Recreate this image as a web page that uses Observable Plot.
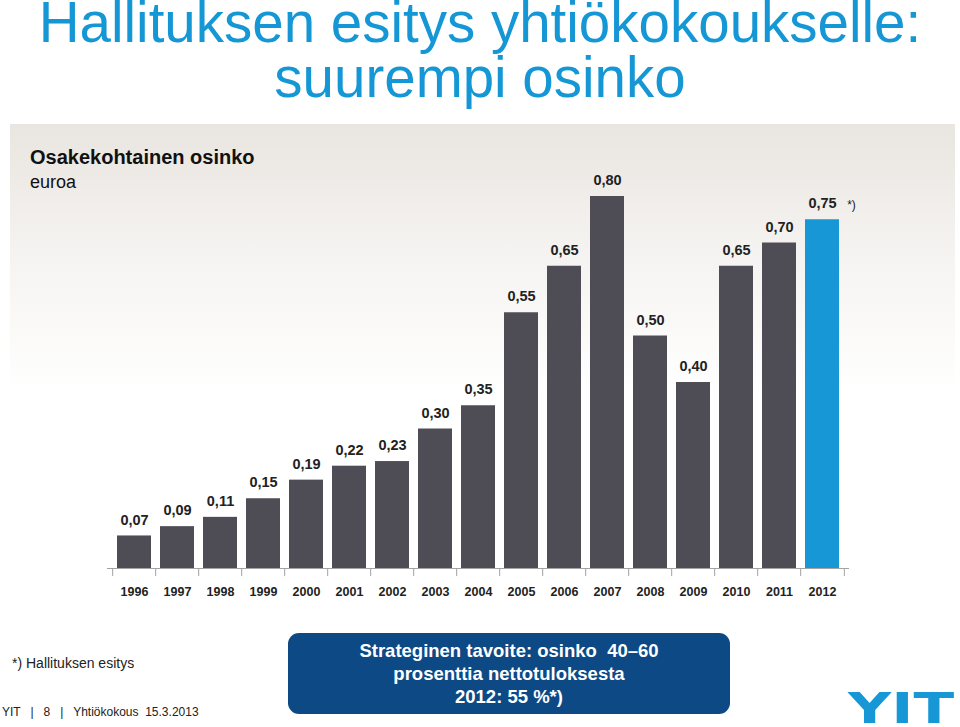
<!DOCTYPE html>
<html>
<head>
<meta charset="utf-8">
<script src="https://cdn.jsdelivr.net/npm/d3@7"></script>
<script src="https://cdn.jsdelivr.net/npm/@observablehq/plot@0.6"></script>
<style>
  html, body { margin: 0; padding: 0; background: #ffffff; }
  body { width: 960px; height: 727px; position: relative; overflow: hidden;
         font-family: "Liberation Sans", Arial, Helvetica, sans-serif; }
  .abs { position: absolute; white-space: pre; }
  #panel { position: absolute; left: 10px; top: 124px; width: 945px; height: 490px;
           background: linear-gradient(to bottom, #e9e5e0 0%, #f6f4f2 28%, #ffffff 55%, #ffffff 100%); }
  #chart { position: absolute; left: 0; top: 124px; }
  .title { color: #1597d5; font-size: 56.5px; line-height: 46px; width: 960px; text-align: center; left: 0; }
  #box { position: absolute; left: 288px; top: 633px; width: 442px; height: 81px;
         background: #0d4985; border-radius: 11px; color: #fff; font-weight: bold;
         font-size: 18.5px; line-height: 23px; text-align: center; }
  #box div { white-space: pre; }
  #logo { position: absolute; left: 848px; top: 694px; color: #1797d6; font-weight: 900;
          font-family: "DejaVu Sans", sans-serif; font-size: 42px; line-height: 30px;
          display: inline-block; transform-origin: 0 0; transform: scaleX(1.42); letter-spacing: 0px; }
</style>
</head>
<body>
<div class="abs title" style="top:0px">Hallituksen esitys yhtiökokoukselle:</div>
<div class="abs title" style="top:55px">suurempi osinko</div>
<div id="panel"></div>
<div id="chart"></div>
<div class="abs" style="left:30px; top:147px; font-size:20px; line-height:20px; font-weight:bold; color:#111">Osakekohtainen osinko</div>
<div class="abs" style="left:30px; top:173px; font-size:18px; line-height:18px; color:#111">euroa</div>
<div class="abs" style="left:12px; top:656px; font-size:14px; line-height:14px; color:#222">*) Hallituksen esitys</div>
<div class="abs" style="left:2px; top:706px; font-size:12px; line-height:12px; color:#222">YIT   |   8   |   Yhtiökokous  15.3.2013</div>
<div id="box">
  <div style="margin-top:6px">Strateginen tavoite: osinko  40–60</div>
  <div>prosenttia nettotuloksesta</div>
  <div>2012: 55 %*)</div>
</div>
<div id="logo">YIT</div>
<script>
// Data
const years = [1996, 1997, 1998, 1999, 2000, 2001, 2002, 2003, 2004, 2005, 2006, 2007, 2008, 2009, 2010, 2011, 2012];
const dividends = [0.07, 0.09, 0.11, 0.15, 0.19, 0.22, 0.23, 0.30, 0.35, 0.55, 0.65, 0.80, 0.50, 0.40, 0.65, 0.70, 0.75];
const proposedYear = 2012;
const noteMark = "*)";

const data = years.map((year, i) => ({year, value: dividends[i]}));
const fmt = v => v.toFixed(2).replace(".", ",");

const W = 960, H = 486, mL = 107, mR = 111, mT = 72, mB = 42;
const step = (W - mL - mR) / years.length;
const grey = "#4e4d56", blue = "#1797d6", axisGrey = "#a3a3a3";

const chart = Plot.plot({
  width: W, height: H,
  marginLeft: mL, marginRight: mR, marginTop: mT, marginBottom: mB,
  style: {background: "transparent", fontFamily: "'Liberation Sans', Arial, sans-serif", overflow: "visible"},
  x: {type: "band", domain: years, paddingInner: 0.22, paddingOuter: 0.11, axis: null},
  y: {domain: [0, 0.8], axis: null},
  marks: [
    Plot.barY(data, {x: "year", y: "value", fill: d => d.year === proposedYear ? blue : grey}),
    Plot.ruleY([0], {stroke: axisGrey, strokeWidth: 1}),
    Plot.ruleX(years, {x: d => d, y1: 0, y2: 0, insetBottom: -8, dx: -step / 2, stroke: axisGrey}),
    Plot.ruleX([years[years.length - 1]], {x: d => d, y1: 0, y2: 0, insetBottom: -8, dx: step / 2, stroke: axisGrey}),
    Plot.axisX({tickSize: 0, tickPadding: 19, fontSize: 12.5, fontWeight: "bold", fill: "#222",
      tickFormat: d => String(d), label: null}),
    Plot.text(data, {x: "year", y: "value", text: d => fmt(d.value), dy: -16,
      fontSize: 14.5, fontWeight: "bold", fill: "#222"}),
    Plot.text(data.filter(d => d.year === proposedYear), {x: "year", y: "value", text: () => noteMark,
      dx: 29, dy: -15, fontSize: 12, fill: "#222"})
  ]
});
document.getElementById("chart").appendChild(chart);
</script>
</body>
</html>
